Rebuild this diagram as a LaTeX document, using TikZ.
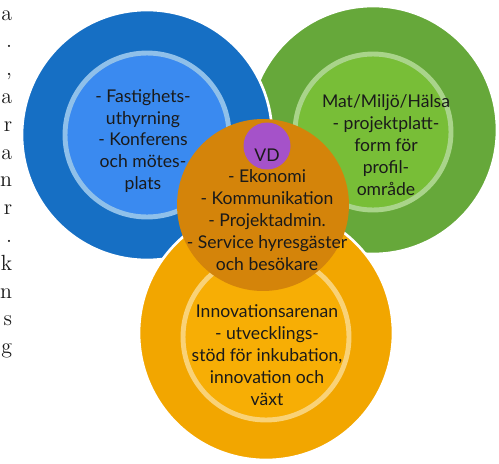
\documentclass[tikz,border=0pt]{standalone}
\usepackage{fontspec}
\setsansfont{Lato}
\usetikzlibrary{positioning}
\definecolor{blueout}{HTML}{166FC4}
\definecolor{bluein}{HTML}{3A8AF0}
\definecolor{bluering}{HTML}{8FC0EA}
\definecolor{greenout}{HTML}{66A83A}
\definecolor{greenin}{HTML}{78BE37}
\definecolor{greenring}{HTML}{A9D48A}
\definecolor{orout}{HTML}{F2A600}
\definecolor{orin}{HTML}{F7AE05}
\definecolor{orring}{HTML}{F9D277}
\definecolor{midor}{HTML}{D4840A}
\definecolor{vdpurple}{HTML}{A552C9}
\definecolor{txtcol}{HTML}{1A1A1A}
\tikzset{outer/.style={draw=white,circle,line width=1.5pt,inner sep=0pt},
  inner/.style={circle,line width=2.8pt,inner sep=0pt},
  txt/.style={draw=none,align=center,text=txtcol,
    font=\sffamily\fontsize{10}{12.5}\selectfont}}

\begin{document}
\begin{tikzpicture}[x=0.02cm,y=-0.02cm]
\useasboundingbox (0,0) rectangle (499,463);
% end of the page text on the left
\foreach \ch [count=\i] in {a,.,{,},a,r,a,n,r,.,k,n,s,g}
  \node[anchor=base east,inner sep=0pt,text=txtcol,font=\fontsize{12.5}{15}\selectfont]
  (t\i) at (12.5,{20+27.8*(\i-1)}) {\ch};

\node[outer,fill=greenout,minimum size=4.96cm] (grn) at (373,130) {};
\node[inner,fill=greenin,draw=greenring,minimum size=3.12cm] (grnin) at (373,132) {};
\node[outer,fill=blueout,minimum size=5cm] (blu) at (147,135) {};
\node[inner,fill=bluein,draw=bluering,minimum size=3.28cm] (bluin) at (147,135) {};
\node[outer,fill=orout,minimum size=5.08cm] (ora) at (266,333) {};
\node[inner,fill=orin,draw=orring,minimum size=3.32cm] (orain) at (266,337) {};
\node[circle,fill=midor,inner sep=0pt,minimum size=3.44cm] (mid) at (263,205) {};
\node[circle,fill=vdpurple,inner sep=0pt,minimum size=0.94cm] (vd) at (267,146) {};

\node[txt] (blutxt) at (143,141) {- Fastighets-\\uthyrning\\- Konferens\\och mötes-\\plats};
\node[txt] (grntxt) at (386,145) {Mat/Miljö/Hälsa\\- projektplatt-\\form för\\profil-\\område};
\node[txt] (oratxt) at (267,355) {Innovationsarenan\\- utvecklings-\\stöd för inkubation,\\innovation och\\växt};
\node[txt] (midtxt) at (267,220) {- Ekonomi\\- Kommunikation\\- Projektadmin.\\- Service hyresgäster\\och besökare};
\node[txt] (vdtxt) at (267,155) {VD};
\end{tikzpicture}
\end{document}
